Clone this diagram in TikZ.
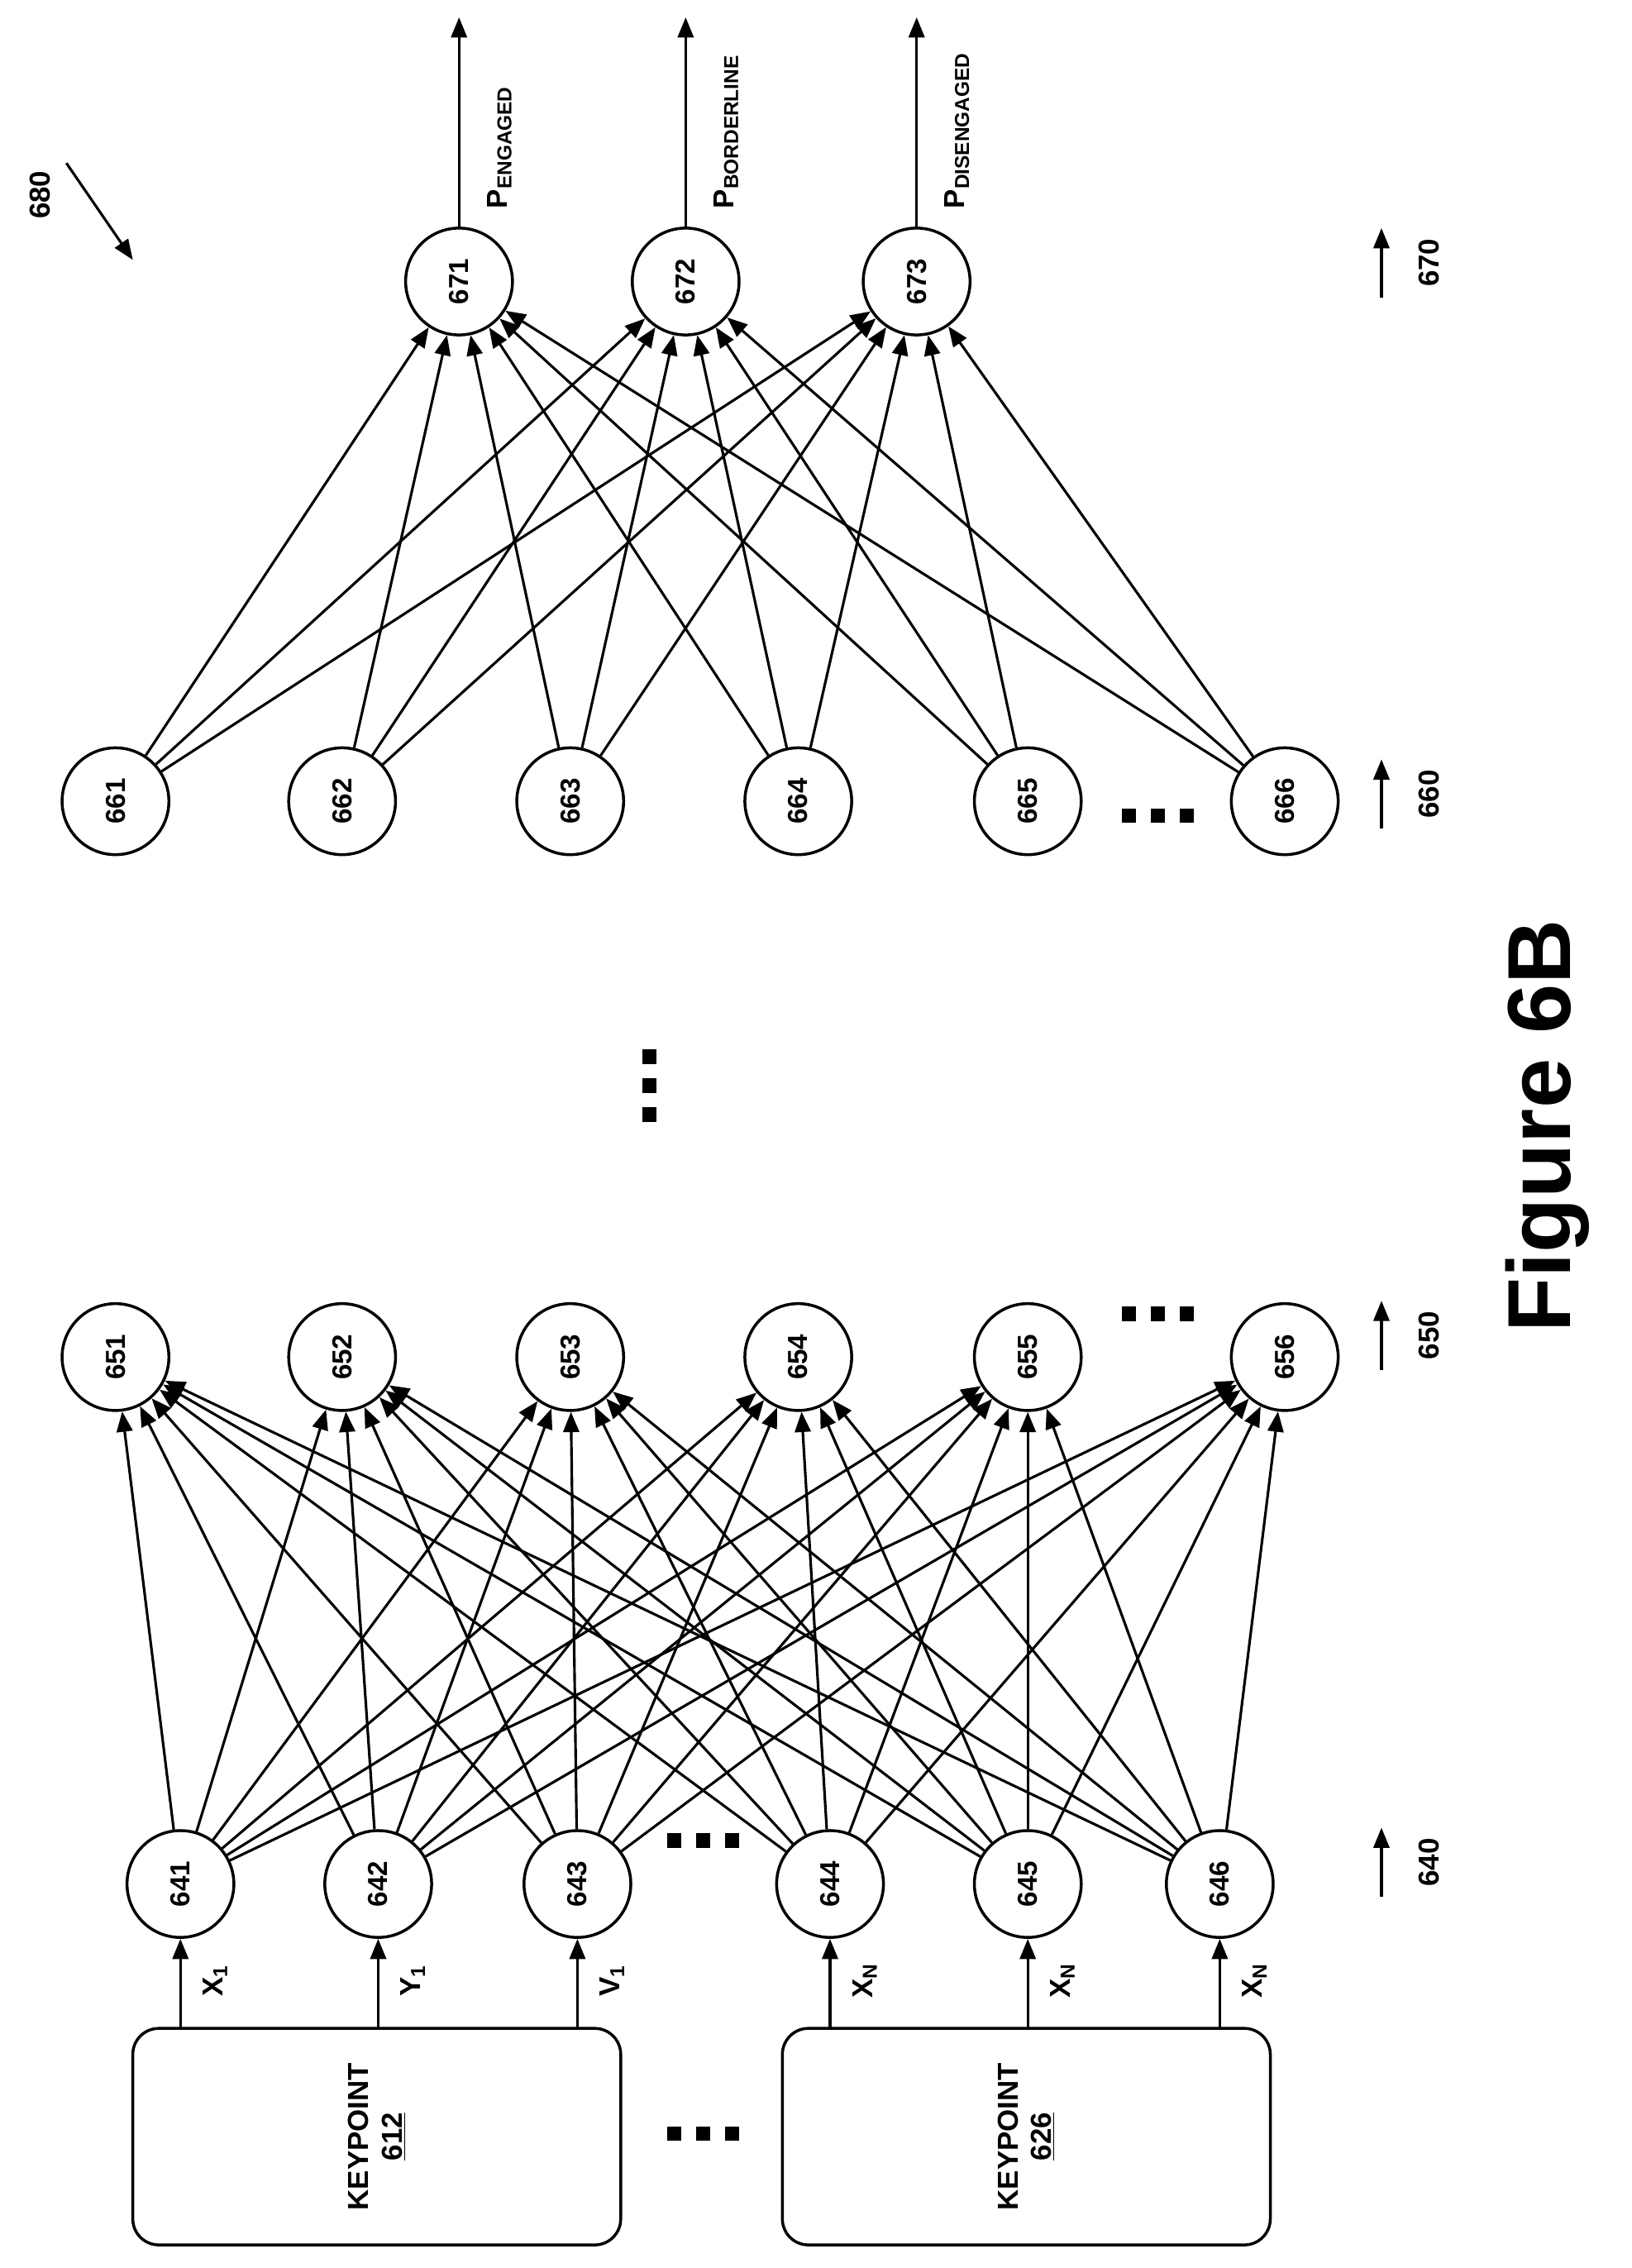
\documentclass[tikz,border=0pt]{standalone}
\usepackage{fontspec}
\setmainfont{Liberation Sans}
\usetikzlibrary{arrows.meta}
\newcommand{\sqdots}{\rule{10pt}{10pt}\hspace{10pt}\rule{10pt}{10pt}\hspace{10pt}\rule{10pt}{10pt}}
\begin{document}
\begin{tikzpicture}[x=1pt,y=-1pt,
  neu/.style={circle,draw,line width=2pt,minimum size=74pt,inner sep=0pt,font=\fontsize{19}{19}\bfseries,rotate=90},
  ar/.style={line width=1.8pt,-{Triangle[length=14pt,width=11pt]}},
  lbl/.style={rotate=90,font=\fontsize{20}{20}\bfseries},
  box/.style={draw,line width=2pt,rounded corners=18pt,minimum width=150pt,minimum height=338pt,rotate=90,font=\fontsize{20}{23}\bfseries,align=center},
  dots/.style={inner sep=0pt}]
\useasboundingbox (0,0) rectangle (1130,1571);
% boxes
\node[box] (k612) at (261,1480) {KEYPOINT\\\underline{612}};
\node[box] (k626) at (711,1480) {KEYPOINT\\\underline{626}};
\foreach \n/\x in {641/125,642/262,643/400,644/575,645/712,646/845}
  \node[neu] (n\n) at (\x,1305) {\n};
\foreach \n/\x in {651/80,652/237,653/395,654/553,655/712,656/890}
  \node[neu] (n\n) at (\x,940) {\n};
\foreach \n/\x in {661/80,662/237,663/395,664/553,665/712,666/890}
  \node[neu] (n\n) at (\x,555) {\n};
\foreach \n/\x in {671/318,672/475,673/635}
  \node[neu] (n\n) at (\x,195) {\n};
% inputs
\foreach \n/\x/\b/\l in {641/125/k612/X\textsubscript{1},642/262/k612/Y\textsubscript{1},643/400/k612/V\textsubscript{1},644/575/k626/X\textsubscript{N},645/712/k626/X\textsubscript{N},646/845/k626/X\textsubscript{N}}{
  \coordinate (s\n) at (\x,1405);
  \draw[ar] (s\n) -- (n\n);
  \node[lbl] (l\n) at (\x+24,1372) {\l};
}
\foreach \a in {641,...,646}
  \foreach \b in {651,...,656}
    \draw[ar] (n\a) -- (n\b);
\foreach \a in {661,...,666}
  \foreach \b in {671,672,673}
    \draw[ar] (n\a) -- (n\b);
% outputs
\foreach \n/\x/\t in {671/318/ENGAGED,672/475/BORDERLINE,673/635/DISENGAGED}{
  \coordinate (o\n) at (\x,12);
  \draw[ar] (n\n) -- (o\n);
  \node[lbl,anchor=west] (p\n) at (\x+28,148) {P\textsubscript{\t}};
}
\node[dots] (d1) at (487,1478) {\sqdots};
\node[dots] (d2) at (487,1275) {\sqdots};
\node[dots] (d3) at (802,910) {\sqdots};
\node[dots,rotate=90] (d4) at (450,752) {\sqdots};
\node[dots] (d5) at (802,565) {\sqdots};
\foreach \t/\y in {640/1290,650/925,660/550,670/182}{
  \coordinate (a\t) at (957,\y+24);
  \coordinate (b\t) at (957,\y-24);
  \draw[ar] (a\t) -- (b\t);
  \node[lbl] (t\t) at (990,\y) {\t};
}
\node[lbl] (t680) at (28,135) {680};
\coordinate (c680a) at (46,113);
\coordinate (c680b) at (92,180);
\draw[ar] (c680a) -- (c680b);
\node[rotate=90,font=\fontsize{62}{62}\bfseries] (fig) at (1072,780) {Figure 6B};
\end{tikzpicture}
\end{document}
